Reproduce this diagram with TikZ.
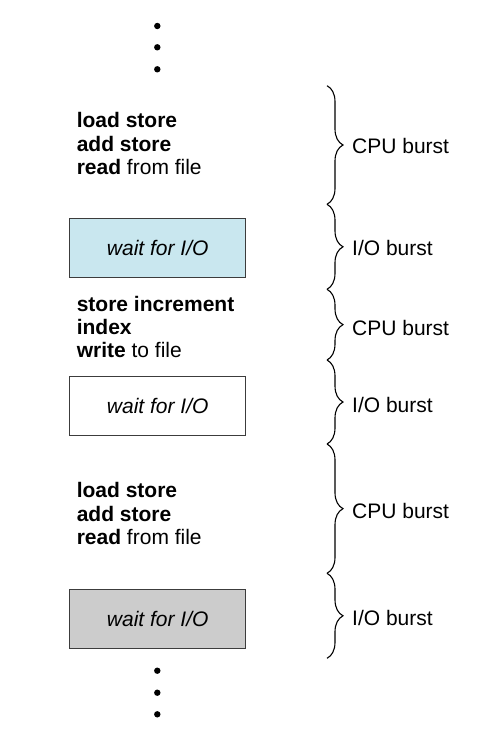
\documentclass[tikz,border=0pt]{standalone}
\usepackage{fontspec}
\setmainfont{Liberation Sans}
\usetikzlibrary{decorations.pathreplacing}
\definecolor{boxblue}{RGB}{201,231,239}
\definecolor{boxgray}{RGB}{204,204,204}
\definecolor{boxline}{RGB}{60,60,60}
\tikzset{
  x=1pt,y=1pt,
  txt/.style={font=\fontsize{21}{23.3}\selectfont},
  codeblock/.style={txt,align=left,anchor=west,inner sep=0pt},
  waitbox/.style={txt,draw=boxline,line width=1pt,minimum width=176.5pt,minimum height=59pt,inner sep=0pt,font=\fontsize{21}{23.3}\selectfont\itshape},
  burst/.style={txt,anchor=west,inner sep=0pt},
  curly/.style={decorate,decoration={brace,amplitude=16pt},line width=1.1pt},
  dot/.style={circle,fill=black,inner sep=0pt,minimum size=6.4pt}
}
\begin{document}
\begin{tikzpicture}
\useasboundingbox (0,0) rectangle (493,-751);
% dots top
\node[dot] (d1) at (157.3,-26) {};
\node[dot] (d2) at (157.3,-47.3) {};
\node[dot] (d3) at (157.3,-69.3) {};
% code blocks
\node[codeblock] (c1) at (76.6,-143.6) {\textbf{load store}\\\textbf{add store}\\\textbf{read} from file};
\node[waitbox,fill=boxblue] (w1) at (157.7,-247.8) {wait for I/O};
\node[codeblock] (c2) at (76.6,-327) {\textbf{store increment}\\\textbf{index}\\\textbf{write} to file};
\node[waitbox,fill=white] (w2) at (157.7,-405.5) {wait for I/O};
\node[codeblock] (c3) at (76.6,-513.5) {\textbf{load store}\\\textbf{add store}\\\textbf{read} from file};
\node[waitbox,fill=boxgray] (w3) at (157.7,-619.4) {wait for I/O};
% dots bottom
\node[dot] (d4) at (157.3,-670.7) {};
\node[dot] (d5) at (157.3,-692.7) {};
\node[dot] (d6) at (157.3,-714.3) {};
% brace junctions
\coordinate (j0) at (327,-85.7);
\coordinate (j1) at (327,-204.3);
\coordinate (j2) at (327,-289.3);
\coordinate (j3) at (327,-360);
\coordinate (j4) at (327,-444);
\coordinate (j5) at (327,-573.3);
\coordinate (j6) at (327,-658.3);
\draw[curly] (j0) -- (j1);
\draw[curly] (j1) -- (j2);
\draw[curly] (j2) -- (j3);
\draw[curly] (j3) -- (j4);
\draw[curly] (j4) -- (j5);
\draw[curly] (j5) -- (j6);
% labels
\node[burst] (b1) at (352,-146) {CPU burst};
\node[burst] (b2) at (352,-248) {I/O burst};
\node[burst] (b3) at (352,-328) {CPU burst};
\node[burst] (b4) at (352,-405) {I/O burst};
\node[burst] (b5) at (352,-510.5) {CPU burst};
\node[burst] (b6) at (352,-618) {I/O burst};
\end{tikzpicture}
\end{document}
